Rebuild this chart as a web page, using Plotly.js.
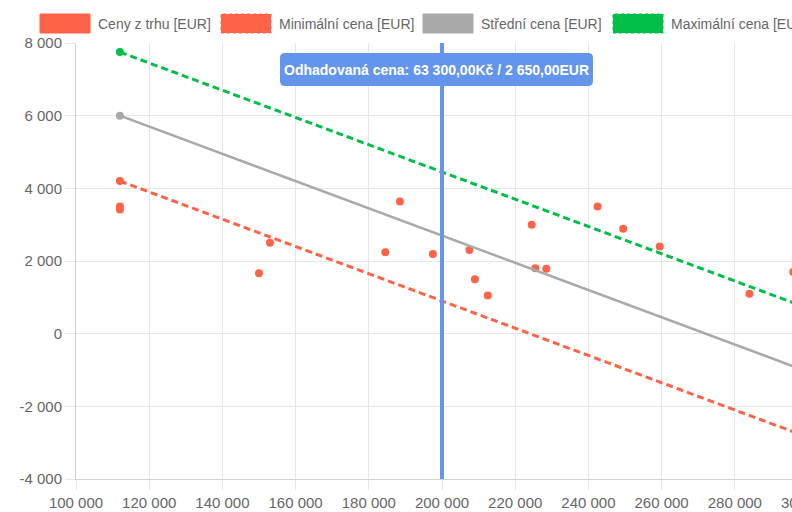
<!DOCTYPE html>
<html>
<head>
<meta charset="utf-8">
<script src="https://cdn.plot.ly/plotly-3.0.1.min.js"></script>
<style>
html,body{margin:0;padding:0;overflow:hidden;background:#fff;}
#chart{width:840px;height:512px;}
</style>
</head>
<body>
<div id="chart"></div>
<script>
// ---- data ----
const seriesNames = ['Ceny z trhu [EUR]', 'Minimální cena [EUR]', 'Střední cena [EUR]', 'Maximální cena [EUR]'];
const marketX = [112000, 112000, 150000, 153000, 184500, 188500, 197500, 207500, 209000, 212500, 224500, 225500, 228500, 242500, 249500, 259500, 284000, 296000];
const marketY = [3500, 3420, 1660, 2500, 2240, 3640, 2190, 2300, 1500, 1050, 3000, 1800, 1790, 3500, 2890, 2400, 1100, 1700];
const lineX = [112000, 300000];
const minY = [4200, -2850];
const midY = [6000, -1050];
const maxY = [7750, 700];
const estimateX = 200000;
const estimateLabel = 'Odhadovaná cena: 63 300,00Kč / 2 650,00EUR';
const xTickVals = [100000, 120000, 140000, 160000, 180000, 200000, 220000, 240000, 260000, 280000, 300000];
const xTickText = ['100 000', '120 000', '140 000', '160 000', '180 000', '200 000', '220 000', '240 000', '260 000', '280 000', '300 000'];
const yTickVals = [-4000, -2000, 0, 2000, 4000, 6000, 8000];
const yTickText = ['-4 000', '-2 000', '0', '2 000', '4 000', '6 000', '8 000'];

// ---- styles ----
const RED = 'rgb(255,99,71)';
const GRAY = 'rgb(169,169,169)';
const GREEN = 'rgb(0,190,72)';
const BLUE = 'rgb(100,149,237)';
const FONT = 'Liberation Sans, Arial, sans-serif';

const W = 840, H = 512;
const M = {l: 76, r: 32, t: 43, b: 33};
const plotW = W - M.l - M.r, plotH = H - M.t - M.b;
const px2paperX = p => (p - M.l) / plotW;
const py2paperY = p => (H - M.b - p) / plotH;

const traces = [
  {x: marketX, y: marketY, type: 'scatter', mode: 'markers', name: seriesNames[0],
   marker: {color: RED, size: 8}, hoverinfo: 'skip'},
  {x: lineX, y: minY, type: 'scatter', mode: 'lines+markers', name: seriesNames[1],
   line: {color: RED, width: 3, dash: '7px,4px'}, marker: {color: RED, size: 8}, hoverinfo: 'skip'},
  {x: lineX, y: midY, type: 'scatter', mode: 'lines+markers', name: seriesNames[2],
   line: {color: GRAY, width: 2.5}, marker: {color: GRAY, size: 8}, hoverinfo: 'skip'},
  {x: lineX, y: maxY, type: 'scatter', mode: 'lines+markers', name: seriesNames[3],
   line: {color: GREEN, width: 3, dash: '7px,4px'}, marker: {color: GREEN, size: 8}, hoverinfo: 'skip'}
];

// custom legend (Chart.js style boxes)
const legendBoxX = [40, 221, 423, 613];
const legendColors = [RED, RED, GRAY, GREEN];
const legendDash = ['solid', 'dot', 'solid', 'dot'];
const shapes = [];
const annotations = [];
legendBoxX.forEach((bx, i) => {
  shapes.push({type: 'rect', xref: 'paper', yref: 'paper',
    x0: px2paperX(bx), x1: px2paperX(bx + 50), y0: py2paperY(33), y1: py2paperY(14),
    fillcolor: legendColors[i], line: {color: legendColors[i], width: 1, dash: legendDash[i]}});
  annotations.push({xref: 'paper', yref: 'paper', x: px2paperX(bx + 56), y: py2paperY(23.5),
    xanchor: 'left', yanchor: 'middle', showarrow: false, text: seriesNames[i],
    font: {family: FONT, size: 14, color: '#666'}});
});

// estimate line
shapes.push({type: 'line', xref: 'x', yref: 'paper', x0: estimateX, x1: estimateX, y0: 0, y1: 1,
  line: {color: BLUE, width: 4}, layer: 'above'});
// rounded label box
shapes.push({type: 'path', xref: 'x', yref: 'paper', xsizemode: 'pixel', ysizemode: 'pixel',
  xanchor: estimateX, yanchor: 1, layer: 'above',
  path: 'M -157 -10 L 146 -10 Q 151 -10 151 -15 L 151 -38 Q 151 -43 146 -43 L -157 -43 Q -162 -43 -162 -38 L -162 -15 Q -162 -10 -157 -10 Z',
  fillcolor: BLUE, line: {width: 0}});
annotations.push({xref: 'x', yref: 'paper', x: estimateX, y: 1, xanchor: 'center', yanchor: 'middle',
  xshift: -5.5, yshift: -26.5, showarrow: false, text: '<b>' + estimateLabel + '</b>',
  font: {family: FONT, size: 14, color: '#fff'}});

const axisCommon = {
  showgrid: true, gridcolor: '#e6e6e6', gridwidth: 1, zeroline: false,
  showline: true, linecolor: '#d0d0d0', linewidth: 1,
  ticks: 'outside', ticklen: 10, tickcolor: '#e6e6e6', tickwidth: 1,
  tickfont: {family: FONT, size: 15, color: '#666'}, tickmode: 'array', fixedrange: true
};

const layout = {
  width: W, height: H, margin: M, showlegend: false,
  paper_bgcolor: '#fff', plot_bgcolor: '#fff',
  xaxis: Object.assign({}, axisCommon, {range: [100000, 300000], tickvals: xTickVals, ticktext: xTickText}),
  yaxis: Object.assign({}, axisCommon, {range: [-4000, 8000], tickvals: yTickVals, ticktext: yTickText}),
  shapes: shapes, annotations: annotations, hovermode: false
};

Plotly.newPlot('chart', traces, layout, {displayModeBar: false, staticPlot: true});
</script>
</body>
</html>
